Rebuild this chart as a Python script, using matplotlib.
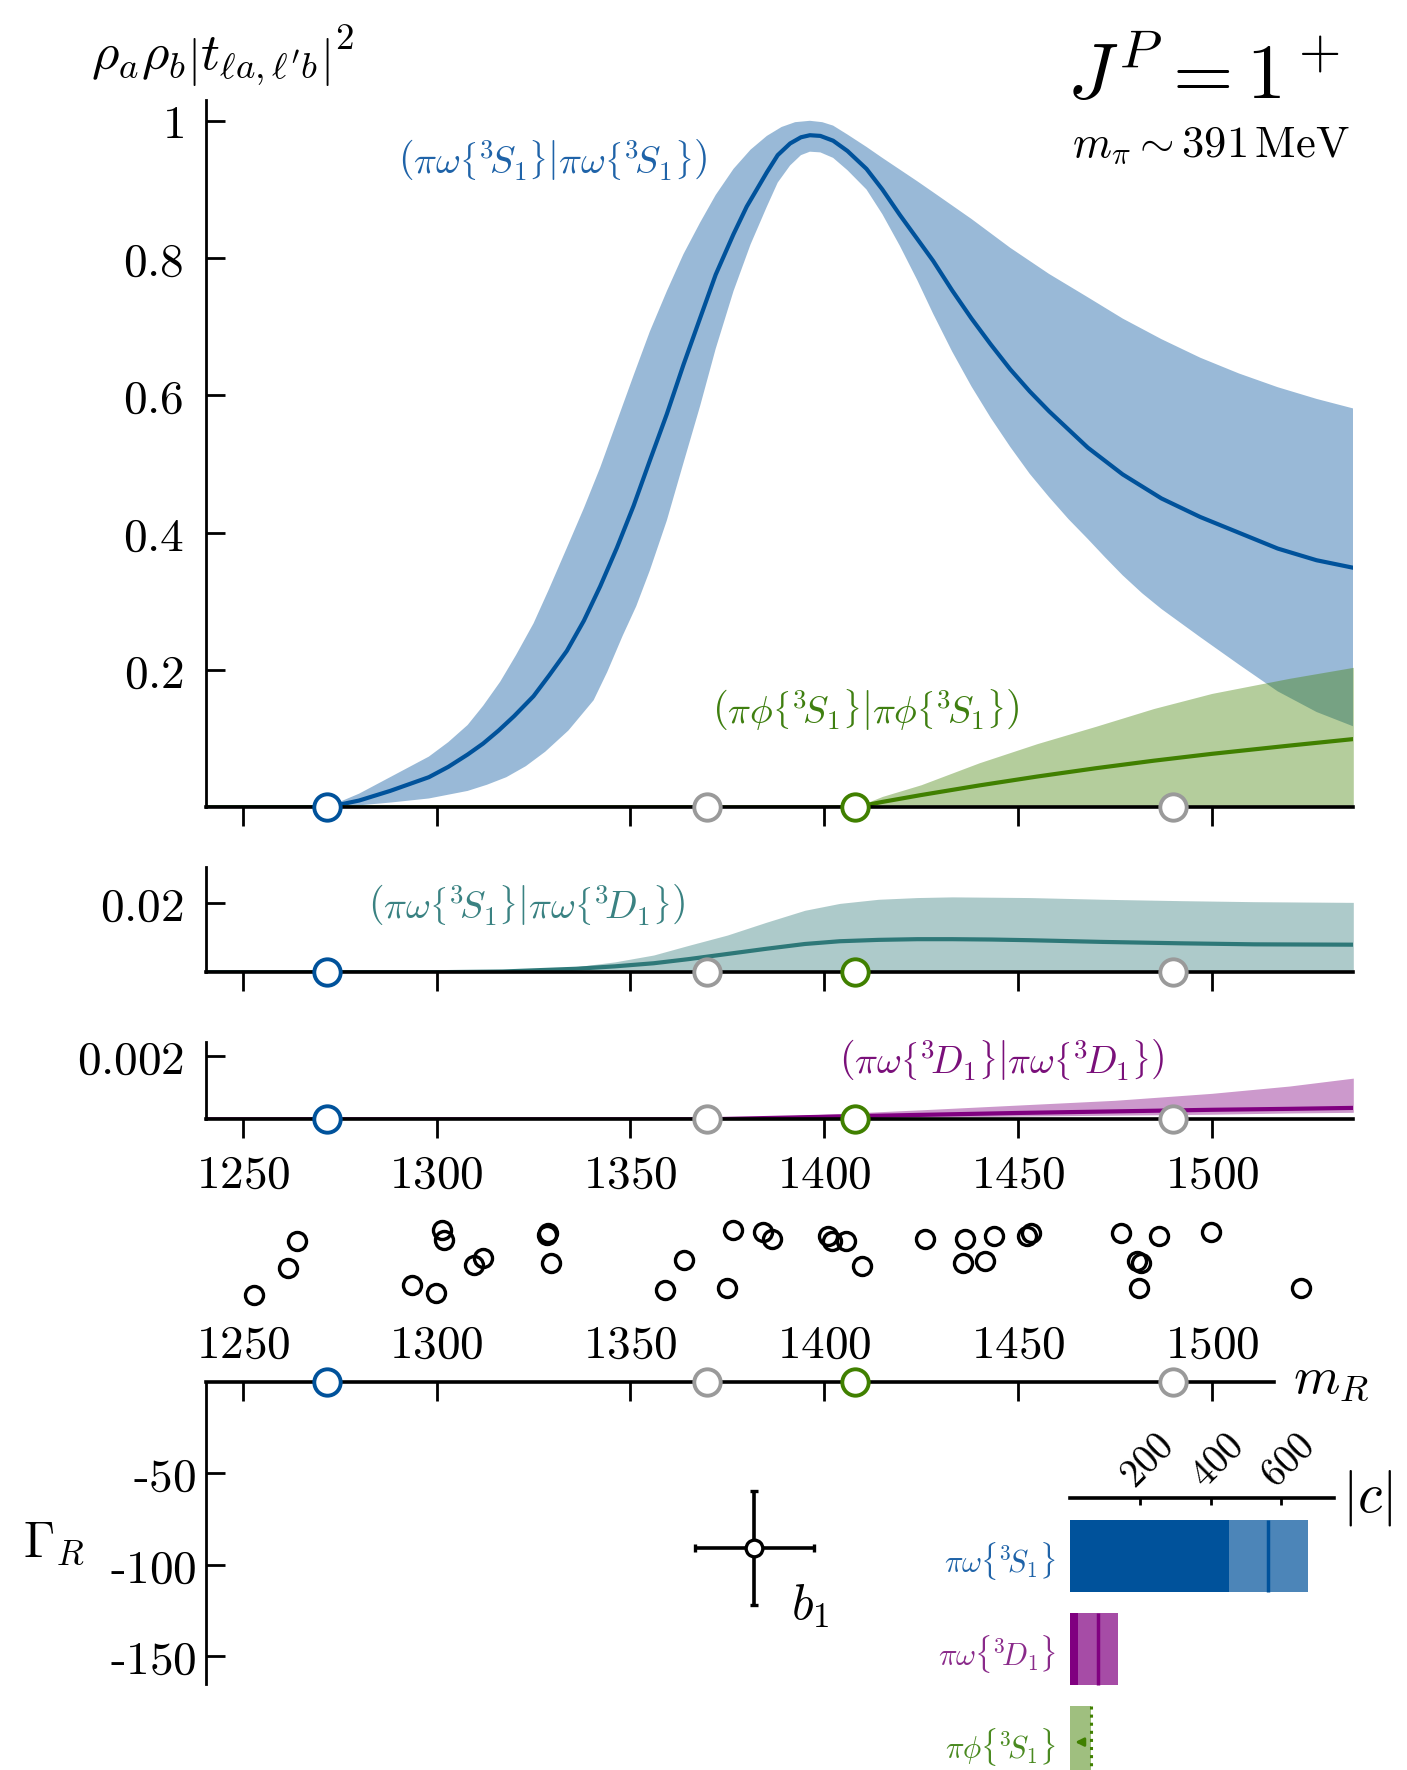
import numpy as np
import matplotlib
matplotlib.use("Agg")
import matplotlib.pyplot as plt

plt.rcParams['mathtext.fontset'] = 'cm'
plt.rcParams['font.family'] = ['DejaVu Serif']

# ---------------- data ----------------
# pi-omega {3S1} -> pi-omega {3S1}: central curve and band edges
m_ss = [1271.6, 1280, 1288, 1298, 1303, 1308, 1312, 1316, 1320, 1325, 1329, 1333.6,
        1338, 1342.2, 1346.5, 1350.8, 1355, 1359.4, 1363.7, 1368, 1372, 1376.6, 1380,
        1385.2, 1388, 1391.2, 1394, 1396.3, 1399, 1402.3, 1406, 1410.9, 1415, 1419.5,
        1424, 1428.1, 1433, 1438, 1443, 1448, 1453, 1458, 1468, 1477, 1487, 1497,
        1507, 1517, 1527, 1536.5]
ss_mid = [0, 0.010, 0.024, 0.044, 0.059, 0.077, 0.093, 0.112, 0.133, 0.162, 0.192, 0.228,
          0.272, 0.322, 0.378, 0.439, 0.505, 0.573, 0.645, 0.713, 0.776, 0.835, 0.875,
          0.925, 0.950, 0.967, 0.976, 0.979, 0.978, 0.971, 0.956, 0.930, 0.900, 0.863,
          0.828, 0.796, 0.753, 0.712, 0.674, 0.638, 0.606, 0.577, 0.524, 0.485, 0.45, 0.423,
          0.40, 0.377, 0.36, 0.349]
m_ss_hi = [1271.6, 1280, 1288, 1298, 1303, 1308, 1312, 1316.4, 1320.5, 1325, 1329,
           1333.6, 1338, 1342.2, 1346.5, 1350.8, 1355, 1359.4, 1363.7, 1368, 1372,
           1376.6, 1381, 1385.2, 1389, 1392.5, 1396.3, 1399.5, 1402.3, 1406, 1410.9,
           1415, 1419.5, 1424, 1428.1, 1438, 1448, 1458, 1468, 1477, 1487, 1497, 1507,
           1517, 1527, 1536.5]
ss_hi = [0, 0.020, 0.044, 0.074, 0.095, 0.12, 0.148, 0.183, 0.222, 0.268, 0.318,
         0.378, 0.436, 0.495, 0.562, 0.629, 0.693, 0.752, 0.806, 0.852, 0.892,
         0.930, 0.958, 0.978, 0.991, 0.998, 1.0, 0.998, 0.993, 0.98, 0.962,
         0.946, 0.929, 0.912, 0.896, 0.857, 0.815, 0.777, 0.743, 0.712, 0.682, 0.655, 0.632,
         0.612, 0.595, 0.581]
m_ss_lo = [1271.6, 1280, 1288, 1298, 1308, 1313, 1318, 1323, 1328, 1334, 1340.5, 1344,
           1348, 1351.5, 1355, 1359.4, 1363.6, 1368, 1372, 1376.6, 1381, 1385.2, 1388,
           1391.2, 1394, 1396.3, 1399, 1402.3, 1406, 1410.9, 1415, 1419.5, 1424, 1428.1,
           1433, 1438, 1443, 1448, 1453, 1458, 1463, 1468, 1472.5, 1477, 1482, 1487, 1497,
           1507, 1517, 1527, 1536.5]
ss_lo = [0, 0.003, 0.007, 0.013, 0.024, 0.033, 0.044, 0.060, 0.081, 0.112, 0.156, 0.197,
         0.25, 0.293, 0.345, 0.418, 0.50, 0.585, 0.668, 0.752, 0.82, 0.875, 0.91,
         0.935, 0.95, 0.955, 0.954, 0.946, 0.928, 0.90, 0.864, 0.818, 0.768, 0.719,
         0.664, 0.613, 0.567, 0.525, 0.486, 0.452, 0.42, 0.391, 0.364, 0.338, 0.312, 0.289,
         0.248, 0.208, 0.169, 0.139, 0.118]

# pi-phi {3S1} -> pi-phi {3S1}
m_pp = [1407.9, 1415, 1425, 1440, 1455, 1470, 1485, 1500, 1520, 1536.5]
pp_mid = [0, 0.008, 0.018, 0.032, 0.045, 0.057, 0.068, 0.078, 0.09, 0.0995]
pp_hi = [0, 0.016, 0.033, 0.065, 0.093, 0.118, 0.144, 0.166, 0.188, 0.204]

# pi-omega {3S1} -> pi-omega {3D1}
m_sd = [1240.5, 1300, 1317, 1336, 1346, 1356, 1365, 1375, 1385, 1395, 1404, 1414, 1424,
        1433, 1443, 1453, 1472, 1492, 1511, 1536.5]
sd_mid = [0, 0, 0.0002, 0.001, 0.0017, 0.0026, 0.0038, 0.0053, 0.0068, 0.0082, 0.0090,
          0.0094, 0.0096, 0.0096, 0.0095, 0.0093, 0.0088, 0.0084, 0.0081, 0.0080]
sd_hi = [0, 0, 0.0003, 0.0016, 0.0030, 0.0050, 0.0078, 0.0108, 0.0145, 0.018, 0.0200,
         0.0212, 0.0217, 0.0219, 0.0218, 0.0217, 0.0212, 0.0208, 0.0205, 0.0203]

# pi-omega {3D1} -> pi-omega {3D1}
m_dd = [1240.5, 1369.8, 1385, 1400, 1425, 1450, 1475, 1500, 1520, 1536.5]
dd_mid = [0, 0, 0.00004, 0.00008, 0.00014, 0.0002, 0.00025, 0.0003, 0.00033, 0.00036]
dd_hi = [0, 0, 0.00008, 0.00016, 0.0003, 0.00045, 0.0006, 0.00082, 0.00105, 0.0013]
dd_lo = [0, 0, 0.00002, 0.00004, 0.00007, 0.0001, 0.00013, 0.00016, 0.0002, 0.00022]

# kinematic thresholds
thresholds = [1271.6, 1369.8, 1407.9, 1490.1]

# resonance masses from parametrization variations (vertical = spread only)
var_mass = [1252.8, 1261.6, 1264.0, 1293.7, 1299.8, 1301.5, 1302.0, 1309.6, 1312.0,
            1328.5, 1328.7, 1329.6, 1359.0, 1363.8, 1375.0, 1376.5, 1384.2, 1386.4,
            1401.1, 1402.0, 1405.6, 1409.7, 1426.1, 1436.4, 1435.7, 1441.6, 1443.7,
            1452.3, 1453.3, 1476.5, 1480.8, 1481.7, 1481.3, 1486.5, 1499.7, 1523.0]
var_spread = [0.067, 0.423, 0.787, 0.20, 0.089, 0.933, 0.80, 0.467, 0.564,
              0.867, 0.889, 0.497, 0.133, 0.533, 0.164, 0.933, 0.903, 0.813,
              0.857, 0.787, 0.787, 0.457, 0.813, 0.813, 0.497, 0.52, 0.857,
              0.857, 0.889, 0.889, 0.52, 0.489, 0.164, 0.857, 0.903, 0.164]

# b1 pole
b1_mass, b1_gamma = 1382.0, -90.8
b1_dmass, b1_dgamma = 15.4, 31.2

# couplings |c|
chan_labels = [r"$\pi\omega\{{}^3\!S_1\}$", r"$\pi\omega\{{}^3\!D_1\}$", r"$\pi\phi\{{}^3\!S_1\}$"]
c_lo = [451, 25.5]
c_mid = [564, 81]
c_hi = [677, 138]
c_limit = 60

mass_ticks = [1250, 1300, 1350, 1400, 1450, 1500]

# ---------------- style ----------------
BLUE = '#00529b'
GREEN = '#408000'
TEAL = '#2e7878'
PURPLE = '#800080'
GRAY = '#9a9a9a'
thr_colors = [BLUE, GRAY, GREEN, GRAY]

W, H = 1407, 1770
fig = plt.figure(figsize=(W / 100, H / 100), dpi=100)


def box(x0, y0, x1, y1):
    return fig.add_axes([x0 / W, 1 - y1 / H, (x1 - x0) / W, (y1 - y0) / H])


XL, XR = 206.0, 1353.3
XLIM = (1240.5, 1536.5)
FS = 34


def mt(s):
    return f"${s}$"


def pair(a, b):
    return (r"$\left(" + a + r"\right|\left." + b + r"\right)$")


def style_panel(ax, ylim, yticks, ylabels, xlabels=False):
    ax.set_xlim(*XLIM)
    ax.set_ylim(*ylim)
    for s in ('top', 'right'):
        ax.spines[s].set_visible(False)
    ax.spines['left'].set_linewidth(2)
    ax.spines['bottom'].set_linewidth(2.6)
    ax.set_xticks(mass_ticks)
    ax.set_xticklabels([mt(v) for v in mass_ticks] if xlabels else [])
    ax.tick_params(axis='x', direction='out', length=14, width=2, pad=10, labelsize=FS)
    ax.set_yticks(yticks)
    ax.set_yticklabels(ylabels)
    ax.tick_params(axis='y', direction='in', length=14, width=2, pad=16, labelsize=FS)
    ax.patch.set_alpha(0)


def thresholds_on(ax, y=0):
    for t, c in zip(thresholds, thr_colors):
        ax.plot([t], [y], 'o', ms=19, mfc='white', mec=c, mew=2.8,
                clip_on=False, zorder=10)


S1 = r"\pi\omega\left\{{}^3\!S_1\right\}"
D1 = r"\pi\omega\left\{{}^3\!D_1\right\}"
P1 = r"\pi\phi\left\{{}^3\!S_1\right\}"
LFS = 27.5

# ---- panel 1: diagonal amplitudes ----
ax1 = box(XL, 100.2, XR, 807.4)
style_panel(ax1, (0, 1.03), [0.2, 0.4, 0.6, 0.8, 1.0],
            [mt('0.2'), mt('0.4'), mt('0.6'), mt('0.8'), mt('1')])
ax1.fill(np.r_[m_ss_hi, m_ss_lo[::-1]], np.r_[ss_hi, ss_lo[::-1]],
         color=BLUE, alpha=0.40, lw=0)
ax1.plot([XLIM[0]] + m_ss, [0] + ss_mid, color=BLUE, lw=3, solid_joinstyle='round')
ax1.fill_between(m_pp, 0, pp_hi, color=GREEN, alpha=0.39, lw=0)
ax1.plot([XLIM[0]] + m_pp, [0] + pp_mid, color=GREEN, lw=3)
thresholds_on(ax1)
ax1.text(1330, 0.944, pair(S1, S1), color='#1f63a8', fontsize=LFS,
         ha='center', va='center')
ax1.text(1410.8, 0.143, pair(P1, P1), color='#3f7f10', fontsize=LFS,
         ha='center', va='center')

# ---- panel 2: S-D off-diagonal ----
ax2 = box(XL, 866.6, XR, 972.2)
style_panel(ax2, (0, 0.0307), [0.02], [mt('0.02')])
ax2.fill_between(m_sd, 0, sd_hi, color=TEAL, alpha=0.39, lw=0)
ax2.plot(m_sd, sd_mid, color=TEAL, lw=3)
thresholds_on(ax2)
ax2.text(1323.3, 0.0197, pair(S1, D1), color='#3a8282', fontsize=LFS,
         ha='center', va='center')

# ---- panel 3: D-wave diagonal ----
ax3 = box(XL, 1041.7, XR, 1119.3)
style_panel(ax3, (0, 0.00245), [0.002], [mt('0.002')], xlabels=True)
ax3.fill_between(m_dd, dd_lo, dd_hi, color=PURPLE, alpha=0.40, lw=0)
ax3.plot(m_dd, dd_mid, color=PURPLE, lw=3)
thresholds_on(ax3)
ax3.text(1445.8, 0.0019, pair(D1, D1), color='#7a107a', fontsize=LFS,
         ha='center', va='center')

# ---- spread of pole masses ----
axs = box(XL, 1225, XR, 1300)
axs.set_xlim(*XLIM)
axs.set_ylim(0, 1)
axs.axis('off')
axs.plot(var_mass, var_spread, 'o', ls='', ms=13, mfc='none', mec='black', mew=2.4,
         clip_on=False)

# ---- complex plane: pole position ----
axp = box(XL, 1381.8, XR, 1683.8)
axp.set_xlim(*XLIM)
axp.set_ylim(-165, 0)
axp.patch.set_alpha(0)
for s in ('bottom', 'right'):
    axp.spines[s].set_visible(False)
axp.spines['left'].set_linewidth(2)
axp.spines['top'].set_linewidth(2.6)
axp.spines['top'].set_bounds(XLIM[0], 1516)
axp.xaxis.tick_top()
axp.set_xticks(mass_ticks)
axp.set_xticklabels([mt(v) for v in mass_ticks])
axp.tick_params(axis='x', direction='in', length=14, width=2, pad=10, labelsize=FS)
axp.set_yticks([-50, -100, -150])
axp.set_yticklabels([r"$\text{-}50$", r"$\text{-}100$", r"$\text{-}150$"])
axp.tick_params(axis='y', direction='in', length=14, width=2, pad=7, labelsize=FS)
thresholds_on(axp)
axp.errorbar([b1_mass], [b1_gamma], xerr=[b1_dmass], yerr=[b1_dgamma], fmt='o',
             ms=12, mfc='white', mec='black', mew=2.4, color='black', elinewidth=2.6,
             capsize=3, capthick=2.6, zorder=6)
axp.text(b1_mass + 9.5, -129.6, r"$b_1$", fontsize=36, ha='left', va='baseline')

# ---- couplings ----
axc = box(1069.5, 1498, 1334, 1770)
axc.set_xlim(0, 750)
axc.set_ylim(2.3, -0.624)
axc.patch.set_alpha(0)
for s in ('bottom', 'right', 'left'):
    axc.spines[s].set_visible(False)
axc.spines['top'].set_linewidth(2.6)
axc.xaxis.tick_top()
axc.set_xticks([200, 400, 600])
axc.set_xticklabels([mt('200'), mt('400'), mt('600')])
axc.tick_params(axis='x', direction='in', length=5, width=2, pad=2, labelsize=28)
for lab in axc.get_xticklabels():
    lab.set_rotation(45)
    lab.set_ha('left')
    lab.set_va('bottom')
    lab.set_rotation_mode('anchor')
axc.set_yticks([0, 1, 2])
axc.set_yticklabels(chan_labels)
axc.tick_params(axis='y', length=0, pad=10, labelsize=22)
for lab, c in zip(axc.get_yticklabels(), ['#1f63a8', '#8a2a8a', '#4a8a20']):
    lab.set_color(c)

bh = 0.774
for i, col in enumerate([BLUE, PURPLE]):
    axc.barh(i, c_lo[i], height=bh, color=col, lw=0)
    axc.barh(i, c_hi[i] - c_lo[i], left=c_lo[i], height=bh, color=col, alpha=0.7, lw=0)
    axc.vlines(c_mid[i], i - bh / 2, i + bh / 2, color=col, lw=2.5)
axc.barh(2, c_limit, height=bh, color=GREEN, alpha=0.5, lw=0)
axc.vlines(c_limit, 2 - bh / 2, 2 + bh / 2, color=GREEN, lw=2.2, linestyles=':')
axc.annotate('', xy=(8, 2), xytext=(50, 2),
             arrowprops=dict(arrowstyle='-|>', color=GREEN, lw=2, mutation_scale=12))

# ---- labels ----
fig.text(91 / W, 1 - 70 / H, r"$\rho_a\rho_b\left|t_{\ell a,\ell^\prime b}\right|^2$",
         fontsize=38, ha='left', va='baseline')
fig.text(1340 / W, 1 - 99 / H, r"$J^P = 1^+$", fontsize=56, ha='right', va='baseline')
fig.text(1350 / W, 1 - 157 / H, r"$m_\pi \sim 391\,\mathrm{MeV}$", fontsize=32,
         ha='right', va='baseline')
fig.text(23 / W, 1 - 1556 / H, r"$\Gamma_R$", fontsize=36, ha='left', va='baseline')
fig.text(1293 / W, 1 - 1392 / H, r"$m_R$", fontsize=38, ha='left', va='baseline')
fig.text(1367 / W, 1 - 1498 / H, r"$|c|$", fontsize=40, ha='center', va='center')

fig.savefig("out.png", dpi=100)
